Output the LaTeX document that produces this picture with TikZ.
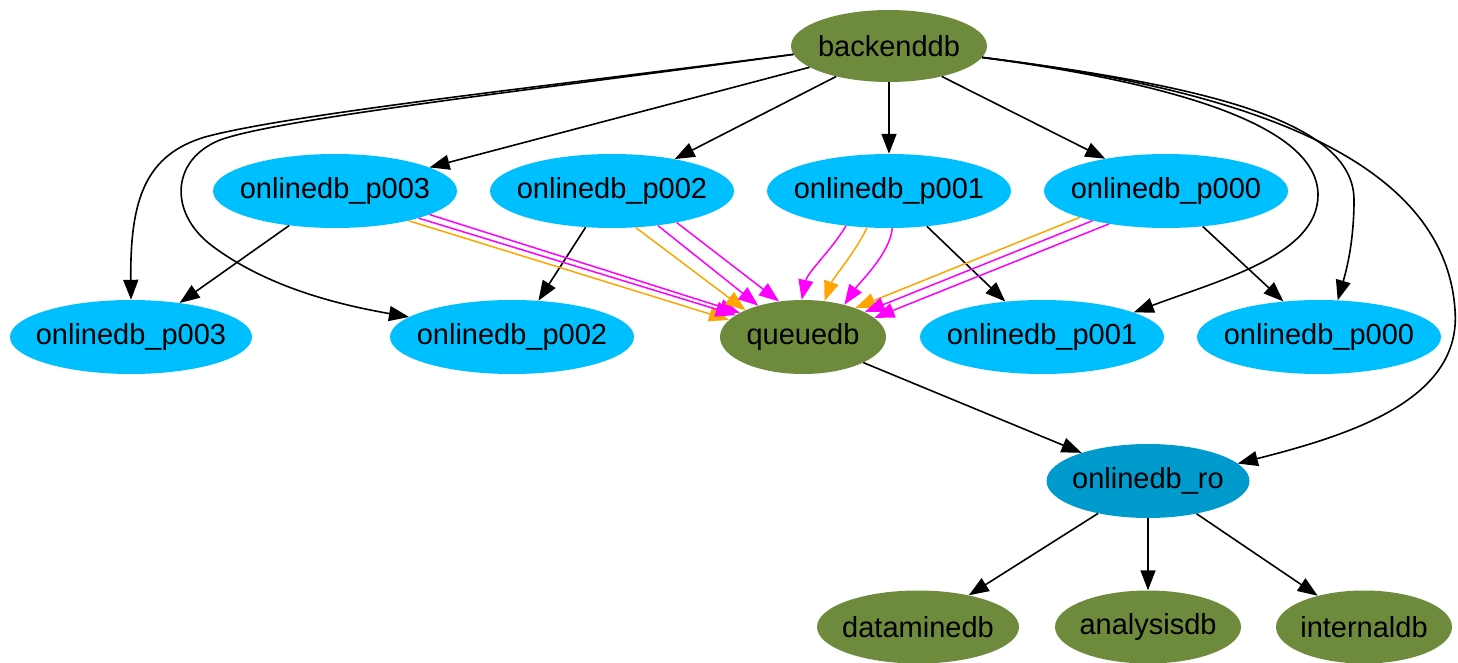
\documentclass[tikz,border=0pt]{standalone}
\usepackage{fontspec}
\setmainfont{Liberation Sans}
\usetikzlibrary{shapes.geometric,arrows.meta}
\definecolor{dbgreen}{HTML}{6E8B3D}
\definecolor{partblue}{HTML}{00BFFF}
\definecolor{roblue}{HTML}{009ACD}
\definecolor{qorange}{HTML}{FFA500}
\definecolor{qmagenta}{HTML}{FF00FF}
% label with no width, so the ellipse size is set only by the style
\newcommand{\dbname}[1]{\makebox[0pt]{#1}}

\begin{document}
\begin{tikzpicture}[x=1pt,y=-1pt,
  db/.style={ellipse, draw=none, inner sep=0pt, text=black,
             font=\fontsize{29}{35}\selectfont},
  gdb/.style={db, fill=dbgreen, minimum height=73pt},
  part/.style={db, fill=partblue, minimum width=244pt, minimum height=74pt},
  rodb/.style={db, fill=roblue, minimum width=203pt, minimum height=74pt},
  link/.style={-{Triangle[length=20pt,width=15pt]}, line width=1.6pt, draw=black},
  olink/.style={link, draw=qorange, line width=1.5pt},
  mlink/.style={link, draw=qmagenta, line width=1.5pt}]

\useasboundingbox (0,0) rectangle (1458,663);

% databases
\node[gdb, minimum width=196pt, minimum height=72pt] (bd) at (889,46) {\dbname{backenddb}};
\node[part] (t3) at (335,191) {\dbname{onlinedb\_p003}};
\node[part] (t2) at (612,191) {\dbname{onlinedb\_p002}};
\node[part] (t1) at (889,191) {\dbname{onlinedb\_p001}};
\node[part] (t0) at (1166,191) {\dbname{onlinedb\_p000}};
\node[part, minimum width=242pt] (b3) at (131,337) {\dbname{onlinedb\_p003}};
\node[part] (b2) at (512,337) {\dbname{onlinedb\_p002}};
\node[gdb, minimum width=166pt, minimum height=74pt] (q) at (803,337) {\dbname{queuedb}};
\node[part] (b1) at (1042,337) {\dbname{onlinedb\_p001}};
\node[part] (b0) at (1319,337) {\dbname{onlinedb\_p000}};
\node[rodb] (ro) at (1148,481) {\dbname{onlinedb\_ro}};
\node[gdb, minimum width=202pt] (dm) at (918,627) {\dbname{dataminedb}};
\node[gdb, minimum width=186pt] (an) at (1148,627) {\dbname{analysisdb}};
\node[gdb, minimum width=176pt] (idb) at (1364,627) {\dbname{internaldb}};

% backenddb to the partitions
\draw[link] (bd.195) -- (t3.14);
\draw[link] (bd.210) -- (t2.27);
\draw[link] (bd.270) -- (t1.90);
\draw[link] (bd.330) -- (t0.152);
\draw[link] (bd.185) .. controls (550,86) and (290,114) .. (205,137)
  .. controls (145,155) and (130,200) .. (b3.90);
\draw[link] (bd.185) .. controls (550,88) and (280,118) .. (220,140)
  .. controls (170,160) and (168,215) .. (215,248)
  .. controls (270,288) and (340,305) .. (b2.169);
\draw[link] (bd.353) .. controls (1150,80) and (1318,120) .. (1318,195)
  .. controls (1318,255) and (1220,280) .. (b1.15);
\draw[link] (bd.353) .. controls (1200,85) and (1354,120) .. (1354,200)
  .. controls (1354,245) and (1345,275) .. (b0.63);
\draw[link] (bd.353) .. controls (1250,90) and (1445,160) .. (1455,310)
  .. controls (1462,400) and (1350,435) .. (ro.11);

% upper partitions to lower partitions
\draw[link] (t3.217) -- (b3.35);
\draw[link] (t2.234) -- (b2.54);
\draw[link] (t1.317) -- (b1.136);
\draw[link] (t0.316) -- (b0.135);

% partitions into the queue
\draw[olink] (t3.338) -- (q.167);
\draw[mlink] (t3.342) -- (q.162);
\draw[mlink] (t3.346) -- (q.159);
\draw[olink] (t2.303) -- (q.155);
\draw[mlink] (t2.323) -- (q.145);
\draw[mlink] (t2.334) -- (q.124);
\draw[mlink] (t1.219) .. controls +(-15,25) and +(6,-28) .. (q.92);
\draw[olink] (t1.239) .. controls +(-10,22) and +(8,-22) .. (q.59);
\draw[mlink] (t1.275) .. controls +(-2,25) and +(15,-22) .. (q.38);
\draw[olink] (t0.197) -- (q.29);
\draw[mlink] (t0.202) -- (q.22);
\draw[mlink] (t0.210) -- (q.15);

% read-only replica and its consumers
\draw[link] (q.337) -- (ro.157);
\draw[link] (ro.213) -- (dm.32);
\draw[link] (ro.270) -- (an.90);
\draw[link] (ro.326) -- (idb.146);
\end{tikzpicture}
\end{document}
